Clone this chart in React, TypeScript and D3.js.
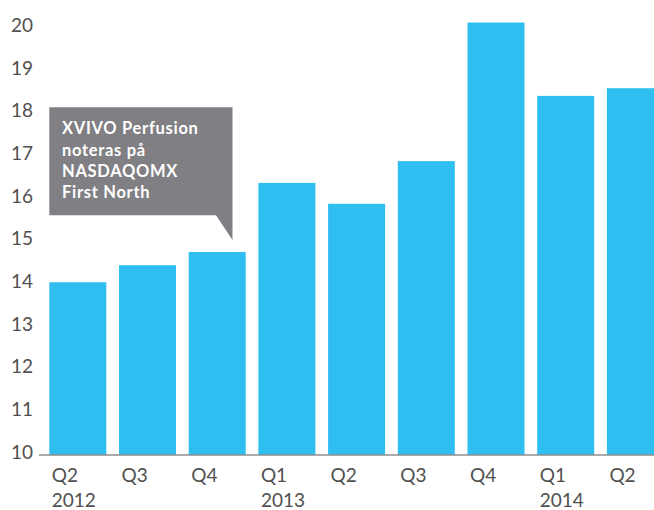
import React from "react";
import * as d3 from "d3";

const quarters = ["Q2", "Q3", "Q4", "Q1", "Q2", "Q3", "Q4", "Q1", "Q2"];
const years = ["2012", "", "", "2013", "", "", "", "2014", ""];
const values = [14.05, 14.45, 14.76, 16.38, 15.89, 16.89, 20.14, 18.42, 18.6];
const yTicks = [10, 11, 12, 13, 14, 15, 16, 17, 18, 19, 20];
const calloutLines = ["XVIVO Perfusion", "noteras på", "NASDAQOMX", "First North"];

const W = 654;
const H = 510;
const BAR = "#2ebef0";
const CALLOUT = "#807f83";
const FONT = "Lato, 'Noto Sans', sans-serif";

export default function App() {
  const x = d3
    .scaleBand<number>()
    .domain(d3.range(values.length))
    .range([49.3, 663.9])
    .paddingInner(0.182)
    .paddingOuter(0);
  const y = d3.scaleLinear().domain([10, 20]).range([455, 28.5]);

  // callout geometry (anchored near Q4 2012 bar)
  const bx0 = 49.3, bx1 = 232.5, by0 = 107.3, by1 = 215.3;
  const tailX = 216, tipY = 240;
  const calloutPath = `M${bx0},${by0}H${bx1}V${tipY}L${tailX},${by1}H${bx0}Z`;

  return (
    <svg
      width={W}
      height={H}
      style={{ position: "absolute", left: 0, top: 0, overflow: "hidden" }}
      fontFamily={FONT}
    >
      <rect width={W} height={H} fill="#fff" />
      {values.map((v, i) => (
        <rect
          key={i}
          x={x(i)}
          y={y(v)}
          width={x.bandwidth()}
          height={y(10) - y(v)}
          fill={BAR}
        />
      ))}
      <line x1={39} x2={W} y1={y(10)} y2={y(10)} stroke="#8e8e8e" strokeWidth={1.5} />
      {yTicks.map((t) => (
        <text key={t} x={33} y={y(t) + 3.5} textAnchor="end" fontSize={19} fill="#505050">
          {t}
        </text>
      ))}
      {quarters.map((q, i) => (
        <g key={i}>
          <text x={(x(i) ?? 0) + 2.5} y={482} fontSize={19} fill="#505050">
            {q}
          </text>
          {years[i] && (
            <text x={(x(i) ?? 0) + 2.5} y={506.5} fontSize={19} fill="#505050">
              {years[i]}
            </text>
          )}
        </g>
      ))}
      <path d={calloutPath} fill={CALLOUT} />
      {calloutLines.map((l, i) => (
        <text
          key={i}
          x={62}
          y={134.3 + i * 21.3}
          fontSize={16.5}
          fontWeight={700}
          letterSpacing={0.7}
          fill="#fff"
        >
          {l}
        </text>
      ))}
    </svg>
  );
}
